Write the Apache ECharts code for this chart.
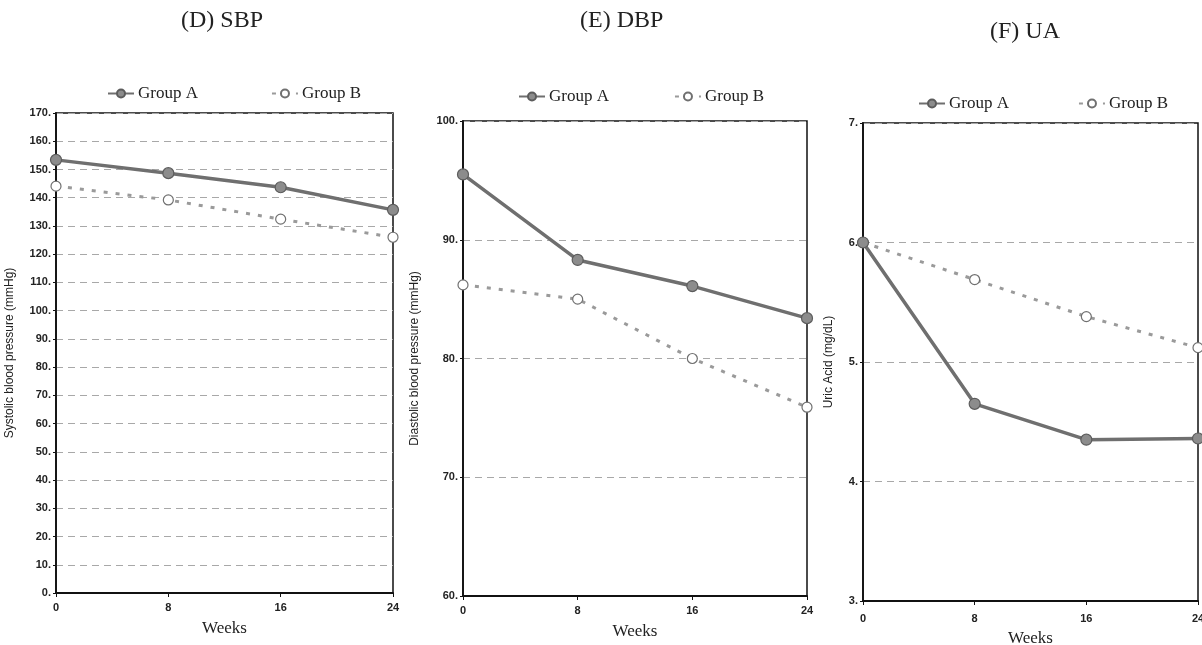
<!DOCTYPE html>
<html>
<head>
<meta charset="utf-8">
<title>SBP / DBP / UA</title>
<script src="https://cdn.jsdelivr.net/npm/echarts@6/dist/echarts.min.js"></script>
<style>
html, body { margin: 0; padding: 0; background: #fff; }
#main { width: 1202px; height: 645px; }
</style>
</head>
<body>
<div id="main"></div>
<script>
// 数据
var weeks = [0, 8, 16, 24];
var groupNames = ['Group A', 'Group B'];
var panelTitles = ['(D) SBP', '(E) DBP', '(F) UA'];
var yNames = ['Systolic blood pressure (mmHg)', 'Diastolic blood pressure (mmHg)', 'Uric Acid (mg/dL)'];
var sbpA = [153.4, 148.7, 143.7, 135.7];
var sbpB = [144.1, 139.2, 132.4, 126.0];
var dbpA = [95.5, 88.3, 86.1, 83.4];
var dbpB = [86.2, 85.0, 80.0, 75.9];
var uaA = [6.0, 4.65, 4.35, 4.36];
var uaB = [6.0, 5.69, 5.38, 5.12];
var yMin = [0, 60, 3];
var yMax = [170, 100, 7];
var yStep = [10, 10, 1];

function pairs(ys) {
    var out = [];
    for (var i = 0; i < weeks.length; i++) {
        out.push([weeks[i], ys[i]]);
    }
    return out;
}

var serif = '"Liberation Serif", "DejaVu Serif", serif';
var sans = '"Liberation Sans", Arial, sans-serif';

var grids = [
    {left: 56, top: 113, width: 337, height: 480},
    {left: 463, top: 121, width: 344, height: 475},
    {left: 863, top: 123, width: 335, height: 478}
];
var yNameGap = [40, 42, 28];
var xNameGap = [27, 27, 29];
var xLabelMargin = [9, 9, 12];

var xAxes = [], yAxes = [], series = [];
for (var g = 0; g < 3; g++) {
    grids[g].show = true;
    grids[g].borderColor = '#111';
    grids[g].borderWidth = 1.5;
    grids[g].containLabel = false;
    grids[g].outerBoundsMode = 'none';
    xAxes.push({
        gridIndex: g, type: 'value', min: 0, max: 24, interval: 8,
        name: 'Weeks', nameLocation: 'middle', nameGap: xNameGap[g],
        nameTextStyle: {fontFamily: serif, fontSize: 17, color: '#222'},
        axisLine: {lineStyle: {color: '#111', width: 1.8}},
        axisTick: {length: 4, lineStyle: {color: '#111'}},
        axisLabel: {margin: xLabelMargin[g], fontFamily: sans, fontWeight: 'bold', fontSize: 11, color: '#222'},
        splitLine: {show: false}
    });
    yAxes.push({
        gridIndex: g, type: 'value', min: yMin[g], max: yMax[g], interval: yStep[g],
        name: yNames[g], nameLocation: 'middle', nameGap: yNameGap[g],
        nameTextStyle: {fontFamily: sans, fontSize: 12, color: '#222'},
        axisLine: {show: true, lineStyle: {color: '#111', width: 1.8}},
        axisTick: {show: true, length: 3, lineStyle: {color: '#111'}},
        axisLabel: {margin: 5, fontFamily: sans, fontWeight: 'bold', fontSize: 11, color: '#222',
            formatter: function (v) { return v + '.'; }},
        splitLine: {show: true, lineStyle: {color: '#a8a8a8', width: 1, type: [7, 5]}}
    });
}

var dataA = [sbpA, dbpA, uaA];
var dataB = [sbpB, dbpB, uaB];
for (var k = 0; k < 3; k++) {
    series.push({
        name: groupNames[0], type: 'line', xAxisIndex: k, yAxisIndex: k,
        data: pairs(dataA[k]), symbol: 'circle', symbolSize: 11, z: 3,
        lineStyle: {color: '#6f6f6f', width: 3.5},
        itemStyle: {color: '#8c8c8c', borderColor: '#5c5c5c', borderWidth: 1.2}
    });
    series.push({
        name: groupNames[1], type: 'line', xAxisIndex: k, yAxisIndex: k,
        data: pairs(dataB[k]), symbol: 'circle', symbolSize: 10, z: 2,
        lineStyle: {color: '#9a9a9a', width: 3, type: [4, 8]},
        itemStyle: {color: '#fff', borderColor: '#707070', borderWidth: 1.2}
    });
}

// 图例位置
var legendPos = [
    {left: 107, top: 85, gap: 73},
    {left: 518, top: 88, gap: 65},
    {left: 918, top: 95, gap: 69}
];
var legends = [];
for (var m = 0; m < 3; m++) {
    legends.push({
        data: groupNames, left: legendPos[m].left, top: legendPos[m].top,
        itemGap: legendPos[m].gap, itemWidth: 26, itemHeight: 10, selectedMode: false,
        padding: 0,
        textStyle: {fontFamily: serif, fontSize: 17, color: '#222', padding: [0, 0, 0, -1]}
    });
}

var titleLeft = [181, 580, 990];
var titleTop = [9, 9, 20];
var titles = [];
for (var t = 0; t < 3; t++) {
    titles.push({
        text: panelTitles[t], left: titleLeft[t], top: titleTop[t], padding: 0,
        textStyle: {fontFamily: serif, fontSize: 24, fontWeight: 'normal', color: '#222'}
    });
}

var myChart = echarts.init(document.getElementById('main'));
var option = {
    animation: false,
    backgroundColor: '#fff',
    title: titles,
    legend: legends,
    grid: grids,
    xAxis: xAxes,
    yAxis: yAxes,
    series: series
};
myChart.setOption(option);
</script>
</body>
</html>
